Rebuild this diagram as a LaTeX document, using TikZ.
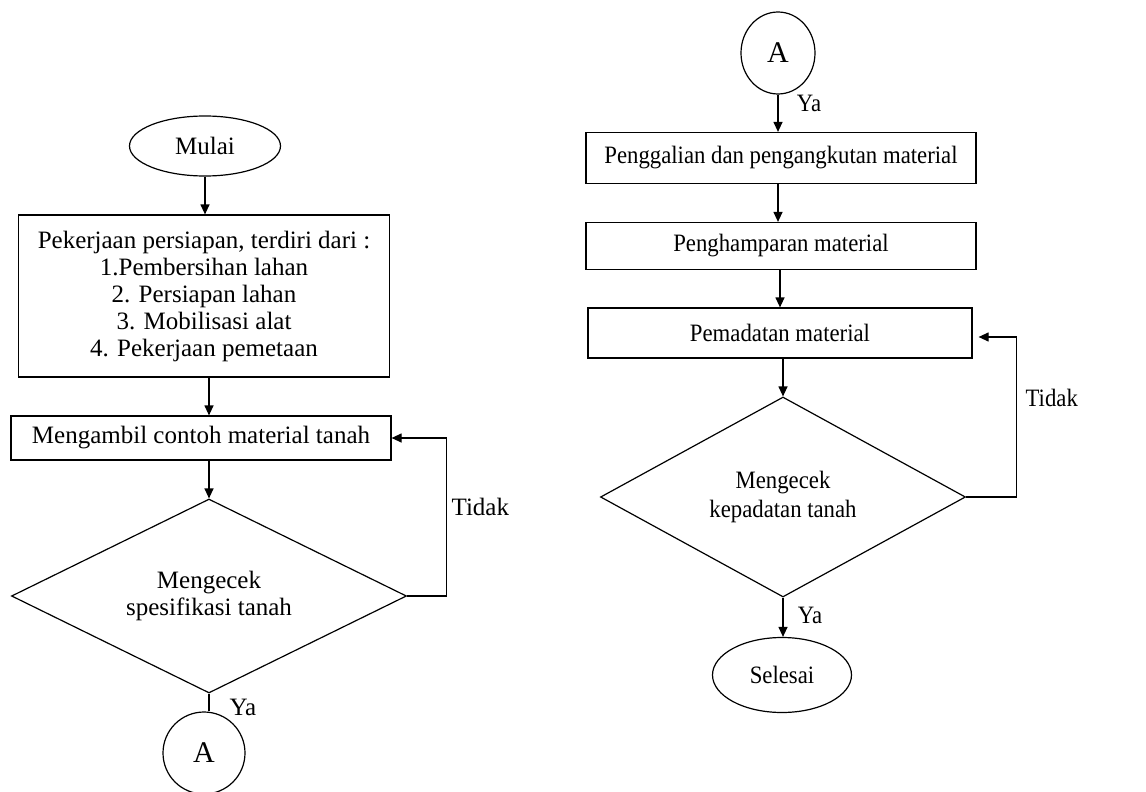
\documentclass[tikz,border=0pt]{standalone}
\usepackage{fontspec}
\setmainfont{Liberation Serif}
\newfontfamily\rfont[FakeStretch=0.91]{Liberation Serif}
\usetikzlibrary{shapes.geometric,arrows.meta}
\begin{document}
\begin{tikzpicture}[x=1pt,y=-1pt, line width=1.2pt,
  lf/.style={font=\fontsize{25}{27}\selectfont},
  rf/.style={font=\rfont\fontsize{25}{29}\selectfont},
  af/.style={font=\fontsize{30}{32}\selectfont},
  base/.style={draw=black, align=center, inner sep=0pt},
  proc/.style={base, rectangle},
  term/.style={base, ellipse},
  dec/.style={base, diamond, aspect=2},
  conn/.style={base, ellipse, af},
  arr/.style={-{Triangle[length=10pt,width=9pt]}},
  lbl/.style={inner sep=0pt}]
\clip (0,0) rectangle (1146,792);
% left column
\node[term, lf, minimum width=151, minimum height=60] (mulai) at (205,146) {Mulai};
\node[proc, lf, minimum width=371, minimum height=162] (prep) at (204,296)
  {Pekerjaan persiapan, terdiri dari :\\1.Pembersihan lahan\\2. Persiapan lahan\\3. Mobilisasi alat\\4. Pekerjaan pemetaan};
\node[proc, lf, minimum width=380, minimum height=44] (ambil) at (201,438) {Mengambil contoh material tanah};
\node[dec, lf, minimum width=395, minimum height=194] (cek1) at (209,596) {Mengecek\\spesifikasi tanah};
\node[conn, minimum width=82, minimum height=82] (a1) at (204,753) {A};
\node[lbl, lf, anchor=west] (t1) at (451,507) {Tidak};
\node[lbl, lf] (y1) at (243,707) {Ya};

\draw[arr] (mulai.south) -- (mulai.south |- prep.north);
\draw[arr] (prep.south -| cek1.north) -- (ambil.north -| cek1.north);
\draw[arr] (ambil.south -| cek1.north) -- (cek1.north);
\draw[arr] (cek1.east) -- ++(39,0) |- (ambil.east);
\draw (cek1.south) -- (a1.north -| cek1.south);

% right column
\node[conn, minimum width=74, minimum height=82] (a2) at (778,53) {A};
\node[proc, rf, minimum width=390, minimum height=51] (gali) at (781,158) {Penggalian dan pengangkutan material};
\node[proc, rf, minimum width=390, minimum height=47] (hampar) at (781,246) {Penghamparan material};
\node[proc, rf, minimum width=384, minimum height=50] (padat) at (780,333) {Pemadatan material};
\node[dec, rf, minimum width=365, minimum height=200] (cek2) at (783,497) {Mengecek\\kepadatan tanah};
\node[term, rf, minimum width=139, minimum height=75] (selesai) at (782,675) {Selesai};
\node[lbl, rf] (y2) at (809,103) {Ya};
\node[lbl, rf, anchor=west] (t2) at (1025,398) {Tidak};
\node[lbl, rf] (y3) at (810,615) {Ya};

\draw[arr] (a2.south) -- (a2.south |- gali.north);
\draw[arr] (a2.south |- gali.south) -- (a2.south |- hampar.north);
\draw[arr] (padat.north |- hampar.south) -- (padat.north);
\draw[arr] (cek2.north |- padat.south) -- (cek2.north);
\draw[arr] (cek2.east) -- ++(50,0) |- ([shift={(6,4)}]padat.east);
\draw[arr] (cek2.south) -- (cek2.south |- selesai.north);
\end{tikzpicture}
\end{document}
